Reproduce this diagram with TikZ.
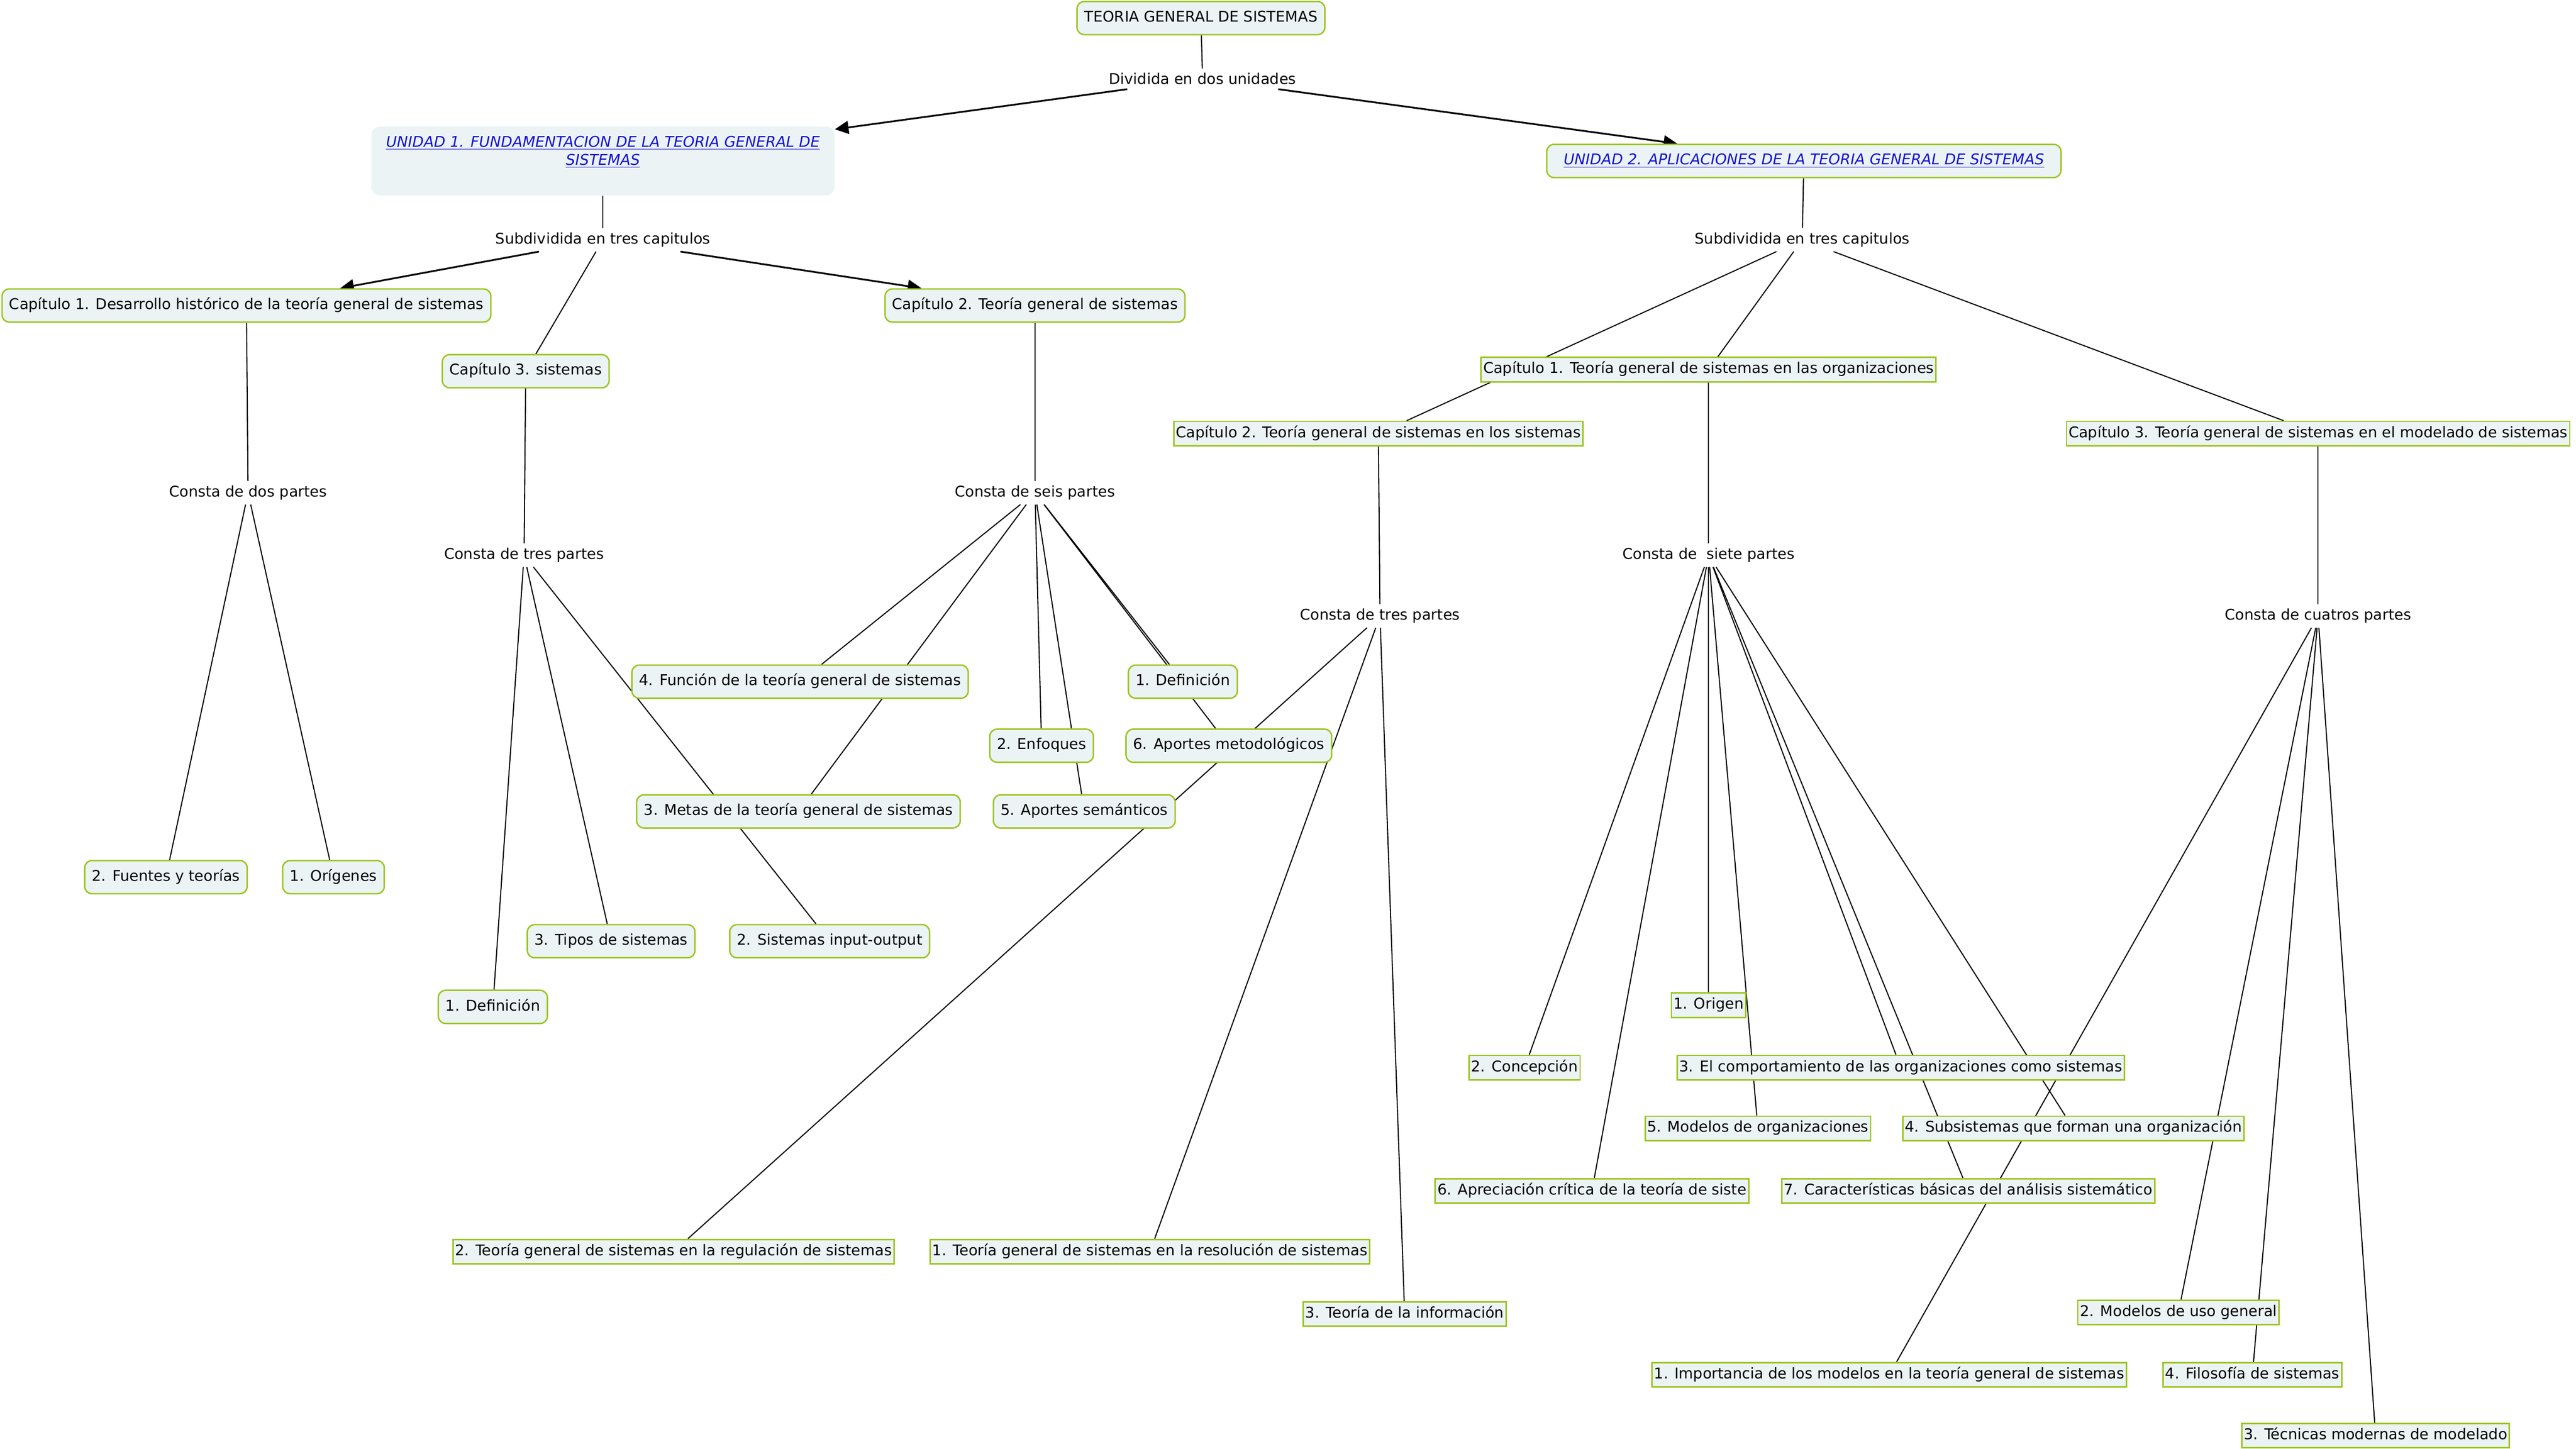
\documentclass[tikz,border=0pt]{standalone}
\usepackage{fontspec}
\setmainfont{DejaVu Sans}
\usetikzlibrary{arrows.meta,backgrounds,fit}
\definecolor{cmgreen}{RGB}{155,197,30}
\definecolor{cmfill}{RGB}{236,243,245}
\definecolor{cmblue}{RGB}{20,20,210}

\begin{document}
\begin{tikzpicture}[x=0.040089cm,y=-0.040089cm,
  every node/.style={font=\fontsize{10.3}{12.5}\selectfont},
  rndbox/.style={draw=cmgreen,fill=cmfill,line width=1pt,rounded corners=5pt,inner xsep=5pt,inner ysep=6.5pt,text height=7.6pt,text depth=2.4pt},
  sqbox/.style={draw=cmgreen,fill=cmfill,line width=1pt,inner xsep=1.5pt,inner ysep=3.5pt,text height=7.6pt,text depth=2.4pt},
  lnk/.style={inner sep=3pt},
  unitxt/.style={text=cmblue,font=\fontsize{10.3}{12.5}\selectfont\itshape},
  cmline/.style={line width=0.75pt},
  cmarr/.style={line width=1.2pt,-{Triangle[length=9.5pt,width=9pt]}}]
\useasboundingbox (0,-1) rectangle (1568,881);

% top and the two units
\node[rndbox] (tgs) at (731,10) {TEORIA GENERAL DE SISTEMAS};
\node[lnk] (div) at (732,47) {Dividida en dos unidades};
\node[fill=cmfill,rounded corners=6pt,inner sep=0pt,fit={(226,76) (508,118)}] (uni1) {};
\node[unitxt,align=center] (uni1txt) at (367,91.5) {\underline{UNIDAD 1. FUNDAMENTACION DE LA TEORIA GENERAL DE}\\\underline{SISTEMAS}};
\node[rndbox,unitxt,minimum width=357pt] (uni2) at (1098,97) {\underline{UNIDAD 2. APLICACIONES DE LA TEORIA GENERAL DE SISTEMAS}};

% unidad 1
\node[lnk] (subL) at (367,145) {Subdividida en tres capitulos};
\node[rndbox] (cap1) at (150,185) {Capítulo 1. Desarrollo histórico de la teoría general de sistemas};
\node[rndbox] (cap3) at (320,225) {Capítulo 3. sistemas};
\node[rndbox] (cap2) at (630,185) {Capítulo 2. Teoría general de sistemas};

\node[lnk] (dosP) at (151,299) {Consta de dos partes};
\node[rndbox] (fuentes) at (101,533) {2. Fuentes y teorías};
\node[rndbox] (origenes) at (203,533) {1. Orígenes};

\node[lnk] (tresL) at (319,337) {Consta de tres partes};
\node[rndbox] (defA) at (300,612) {1. Definición};
\node[rndbox] (tipos) at (372,572) {3. Tipos de sistemas};
\node[rndbox] (inout) at (505,572) {2. Sistemas input-output};

\node[lnk] (seisP) at (630,299) {Consta de seis partes};
\node[rndbox] (funcion) at (487,414) {4. Función de la teoría general de sistemas};
\node[rndbox] (metas) at (486,493) {3. Metas de la teoría general de sistemas};
\node[rndbox] (enfoques) at (634,453) {2. Enfoques};
\node[rndbox] (semant) at (660,493) {5. Aportes semánticos};
\node[rndbox] (defB) at (720,414) {1. Definición};
\node[rndbox] (metod) at (748,453) {6. Aportes metodológicos};

% unidad 2
\node[lnk] (subR) at (1097,145) {Subdividida en tres capitulos};
\node[sqbox] (cap1o) at (1040,224) {Capítulo 1. Teoría general de sistemas en las organizaciones};
\node[sqbox] (cap2s) at (839,263) {Capítulo 2. Teoría general de sistemas en los sistemas};
\node[sqbox] (cap3m) at (1411,263) {Capítulo 3. Teoría general de sistemas en el modelado de sistemas};

\node[lnk] (tresR) at (840,374) {Consta de tres partes};
\node[sqbox] (regul) at (410,761) {2. Teoría general de sistemas en la regulación de sistemas};
\node[sqbox] (resol) at (700,761) {1. Teoría general de sistemas en la resolución de sistemas};
\node[sqbox] (info) at (855,799) {3. Teoría de la información};

\node[lnk] (sieteP) at (1040,337) {Consta de\ \ siete partes};
\node[sqbox] (origen) at (1040,611) {1. Origen};
\node[sqbox] (concep) at (928,649) {2. Concepción};
\node[sqbox] (comport) at (1157,649) {3. El comportamiento de las organizaciones como sistemas};
\node[sqbox] (modorg) at (1070,686) {5. Modelos de organizaciones};
\node[sqbox] (subsis) at (1262,686) {4. Subsistemas que forman una organización};
\node[sqbox] (apreci) at (969,724) {6. Apreciación crítica de la teoría de siste};
\node[sqbox] (caract) at (1198,724) {7. Características básicas del análisis sistemático};

\node[lnk] (cuatroP) at (1411,374) {Consta de cuatros partes};
\node[sqbox] (usogen) at (1326,798) {2. Modelos de uso general};
\node[sqbox] (import) at (1150,836) {1. Importancia de los modelos en la teoría general de sistemas};
\node[sqbox] (filos) at (1371,836) {4. Filosofía de sistemas};
\node[sqbox] (tecnicas) at (1446,873) {3. Técnicas modernas de modelado};

\begin{pgfonlayer}{background}
\fill[white] (0,-1) rectangle (1568,881);
% links
\draw[cmline] (tgs) -- (div);
\draw[cmarr] (div) -- (uni1);
\draw[cmarr] (div) -- (uni2);

\draw[cmline] (uni1) -- (subL);
\draw[cmarr] (subL) -- (cap1);
\draw[cmarr] (subL) -- (cap2);
\draw[cmline] (subL) -- (cap3);

\draw[cmline] (cap1) -- (dosP);
\draw[cmline] (dosP) -- (fuentes);
\draw[cmline] (dosP) -- (origenes);

\draw[cmline] (cap3) -- (tresL);
\draw[cmline] (tresL) -- (defA);
\draw[cmline] (tresL) -- (tipos);
\draw[cmline] (tresL) -- (inout);

\draw[cmline] (cap2) -- (seisP);
\draw[cmline] (seisP) -- (funcion);
\draw[cmline] (seisP) -- (metas);
\draw[cmline] (seisP) -- (enfoques);
\draw[cmline] (seisP) -- (semant);
\draw[cmline] (seisP) -- (defB);
\draw[cmline] (seisP) -- (metod);

\draw[cmline] (uni2) -- (subR);
\draw[cmline] (subR) -- (cap2s);
\draw[cmline] (subR) -- (cap1o);
\draw[cmline] (subR) -- (cap3m);

\draw[cmline] (cap2s) -- (tresR);
\draw[cmline] (tresR) -- (regul);
\draw[cmline] (tresR) -- (resol);
\draw[cmline] (tresR) -- (info);

\draw[cmline] (cap1o) -- (sieteP);
\draw[cmline] (sieteP) -- (origen);
\draw[cmline] (sieteP) -- (concep);
\draw[cmline] (sieteP) -- (comport);
\draw[cmline] (sieteP) -- (subsis);
\draw[cmline] (sieteP) -- (modorg);
\draw[cmline] (sieteP) -- (apreci);
\draw[cmline] (sieteP) -- (caract);

\draw[cmline] (cap3m) -- (cuatroP);
\draw[cmline] (cuatroP) -- (import);
\draw[cmline] (cuatroP) -- (usogen);
\draw[cmline] (cuatroP) -- (tecnicas);
\draw[cmline] (cuatroP) -- (filos);
\end{pgfonlayer}
\end{tikzpicture}
\end{document}
